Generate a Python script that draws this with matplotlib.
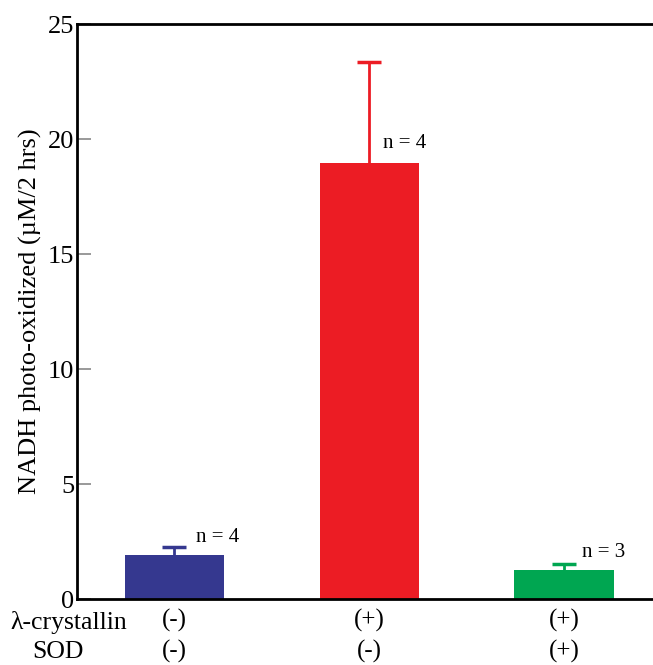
import matplotlib
matplotlib.use('Agg')
from matplotlib import pyplot as plt

plt.rcParams['font.family'] = ['Liberation Serif', 'DejaVu Serif']

means = [1.91, 18.95, 1.28]
errs = [0.35, 4.4, 0.24]
ns = ['n = 4', 'n = 4', 'n = 3']
colors = ['#35388f', '#ec1c24', '#00a651']
crystallin = ['(-)', '(+)', '(+)']
sod = ['(-)', '(-)', '(+)']
yticks = [0, 5, 10, 15, 20, 25]

fig = plt.figure(figsize=(6.53, 6.65), dpi=100)
ax = fig.add_axes([0.118, 0.0992, 0.892, 0.8647])

# label offsets (x from bar centre, y from mean or error top)
nx = [0.11, 0.07, 0.09]
ny = [0.4, 0.85, 0.52]

x = range(len(means))
for i in x:
    ax.bar(i, means[i], width=0.51, color=colors[i], zorder=2)
    ax.vlines(i, means[i], means[i] + errs[i], color=colors[i], lw=2, zorder=1)
    ax.plot([i], [means[i] + errs[i]], marker='_', ms=17, mew=2.5,
            color=colors[i], zorder=1)
    base = means[i] if i == 1 else means[i] + errs[i]
    ax.text(i + nx[i], base + ny[i], ns[i], fontsize=15, ha='left', va='center')

ax.set_xlim(-0.5, 2.49)
ax.set_ylim(0, 25)
ax.set_yticks(yticks)
ax.set_yticklabels([str(t) for t in yticks], fontsize=19)
ax.tick_params(axis='y', direction='in', length=10, width=1.2, color='#888888', pad=2)
ax.tick_params(axis='x', length=0, labelbottom=False)
ax.spines['right'].set_visible(False)
for s in ['left', 'top', 'bottom']:
    ax.spines[s].set_linewidth(2)
ax.set_ylabel('NADH photo-oxidized (\u00b5M/2 hrs)', fontsize=19, labelpad=4)

# category rows below the axis
for i in x:
    ax.text(i, -0.95, crystallin[i], fontsize=18, ha='center', va='center')
    ax.text(i, -2.3, sod[i], fontsize=18, ha='center', va='center')
fig.text(0.016, 1 - 623 / 665, '\u03bb-crystallin', fontsize=18.5, ha='left', va='center')
fig.text(0.05, 1 - 652 / 665, 'SOD', fontsize=18.5, ha='left', va='center')

plt.savefig('out.png', dpi=100)
